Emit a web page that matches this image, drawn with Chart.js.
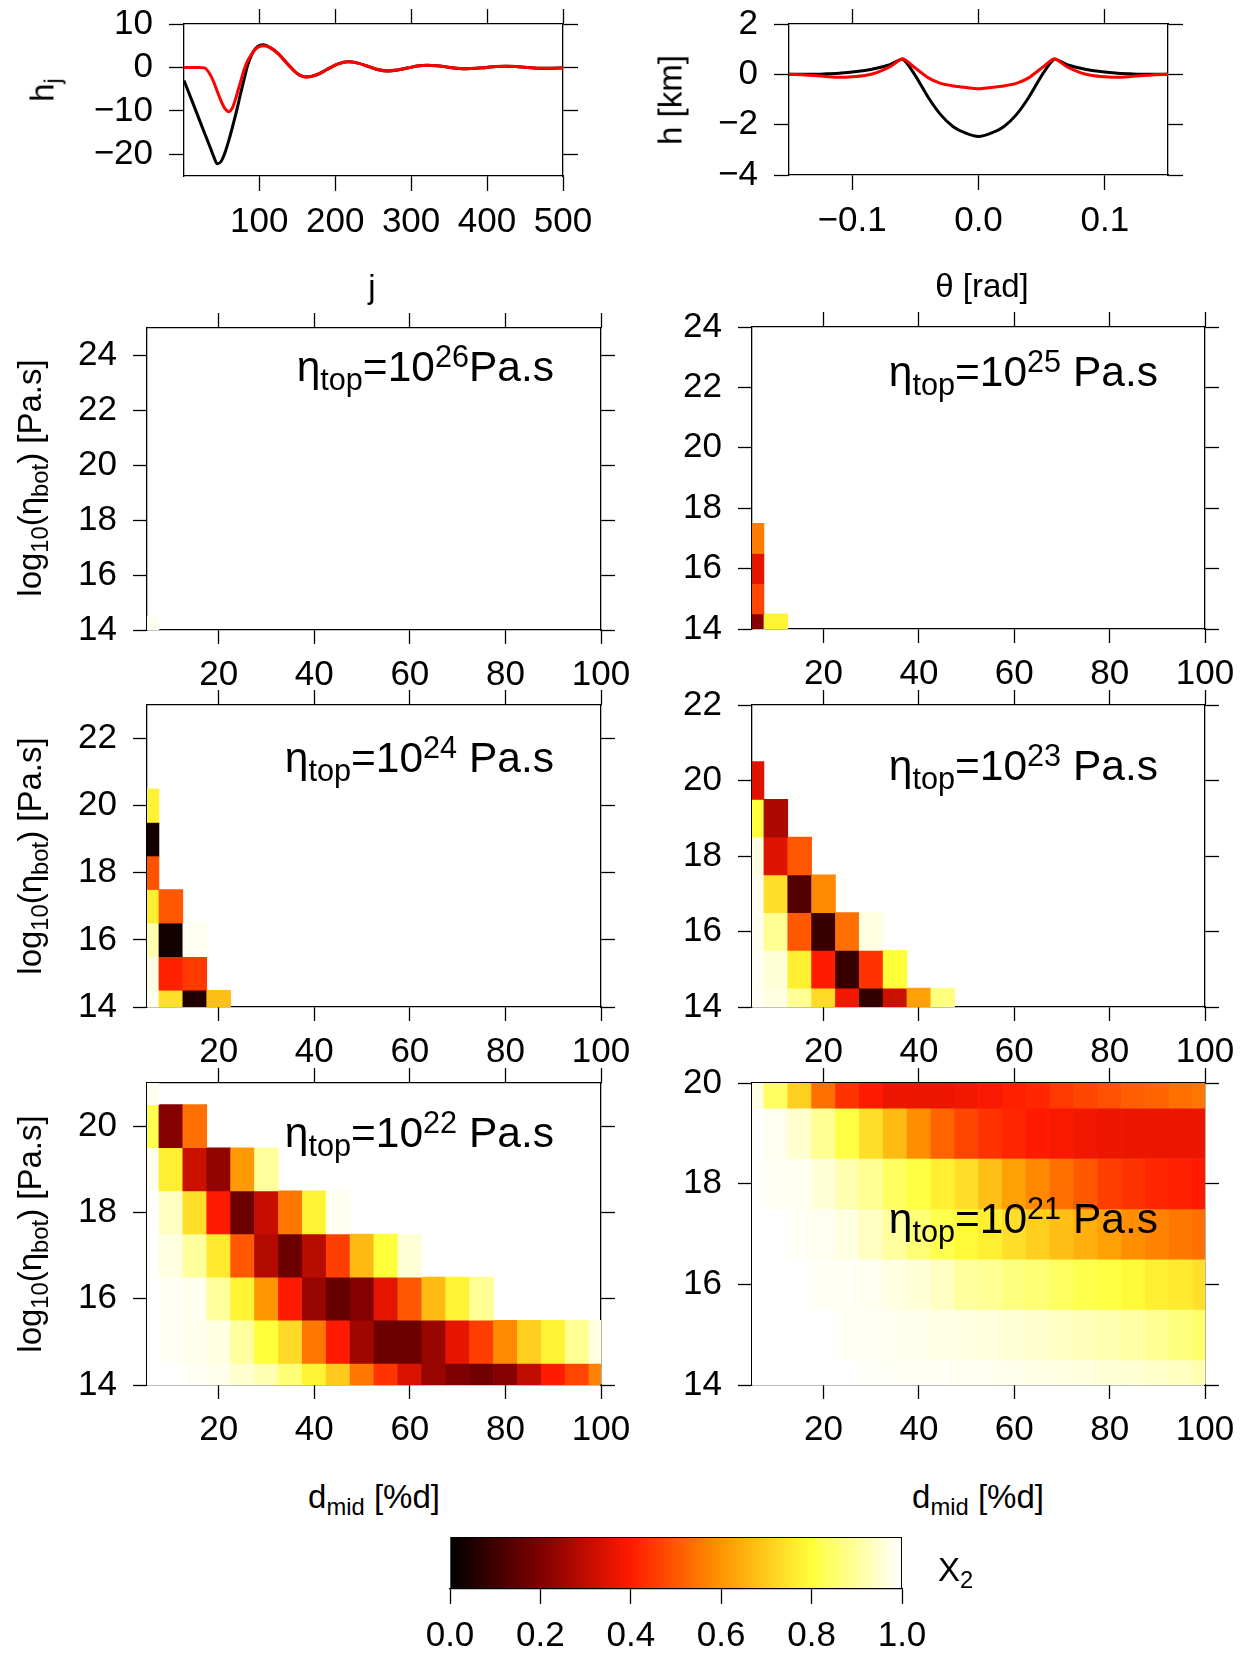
<!DOCTYPE html>
<html>
<head>
<meta charset="utf-8">
<script src="https://cdn.jsdelivr.net/npm/chart.js@4.4.1/dist/chart.umd.min.js"></script>
<style>
  body { margin: 0; background: #fff; }
  #page { position: relative; width: 1254px; height: 1654px; overflow: hidden; background: #fff;
          font-family: 'Liberation Sans', Arial, sans-serif; color: #000; }
  canvas { position: absolute; }
  .lbl { position: absolute; white-space: nowrap; font-size: 33px; line-height: 1; }
  .ctr { transform: translate(-50%, -50%); }
  .rot { transform: translate(-50%, -50%) rotate(-90deg); }
  .ann { position: absolute; white-space: nowrap; font-size: 42.5px; line-height: 1; }
  .sb { font-size: 0.72em; position: relative; top: 0.3em; }
  .sp { font-size: 0.72em; position: relative; top: -0.45em; }
</style>
</head>
<body>
<div id="page"></div>
<script>
// ---------- données ----------
// spectre h_j
const jIdx = [1, 10, 20, 28, 35, 40, 45, 50, 55, 60, 65, 70, 75, 80, 85, 90, 95, 100, 106, 115,
  125, 140, 150, 162, 175, 190, 204, 217, 230, 245, 257, 269, 282, 295, 308, 321, 334, 347, 360, 373,
  386, 399, 412, 425, 438, 450, 462, 472, 486, 500];
const hjBlack = [-3.0, -7.0, -11.5, -15.1, -18.2, -20.5, -22.2, -21.6, -19.6, -16.8,
  -13.6, -10.2, -6.4, -2.8, 0.6, 2.9, 4.3, 5.0, 5.2, 4.5,
  3.2, 0.3, -1.4, -2.2, -1.75, -0.4, 0.83, 1.3, 0.99, 0.12,
  -0.53, -0.8, -0.61, -0.15, 0.31, 0.5, 0.38, 0.1, -0.18, -0.3,
  -0.21, 0.0, 0.21, 0.3, 0.21, 0.02, -0.15, -0.2, -0.17, -0.1];
const hjRed = [0.0, 0.0, 0.0, -0.1, -1.5, -3.3, -5.6, -7.8, -9.5, -10.2,
  -9.2, -6.6, -3.6, -0.6, 1.6, 3.0, 4.2, 4.8, 5.0, 4.5,
  3.2, 0.3, -1.4, -2.2, -1.75, -0.4, 0.83, 1.3, 0.99, 0.12,
  -0.53, -0.8, -0.61, -0.15, 0.31, 0.5, 0.38, 0.1, -0.18, -0.3,
  -0.21, 0.0, 0.21, 0.3, 0.21, 0.02, -0.15, -0.2, -0.17, -0.1];
const jTicks = [100, 200, 300, 400, 500];
const hjTicks = [-20, -10, 0, 10];

// profil h(theta)
const theta = [-0.15, -0.14, -0.13, -0.12, -0.11, -0.10, -0.09, -0.08, -0.07, -0.06,
  -0.05, -0.04, -0.03, -0.02, -0.01, 0.0, 0.01, 0.02, 0.03, 0.04,
  0.05, 0.06, 0.07, 0.08, 0.09, 0.10, 0.11, 0.12, 0.13, 0.14, 0.15];
const hkmBlack = [0, 0, 0, 0.02, 0.04, 0.09, 0.15, 0.25, 0.38, 0.6,
  -0.05, -0.9, -1.6, -2.08, -2.34, -2.47, -2.34, -2.08, -1.6, -0.9,
  -0.05, 0.6, 0.38, 0.25, 0.15, 0.09, 0.04, 0.02, 0, 0, 0];
const hkmRed = [0, -0.02, -0.05, -0.09, -0.12, -0.1, -0.05, 0.08, 0.3, 0.62,
  0.25, -0.13, -0.36, -0.46, -0.52, -0.57, -0.52, -0.46, -0.36, -0.13,
  0.25, 0.62, 0.3, 0.08, -0.05, -0.1, -0.12, -0.09, -0.05, -0.02, 0];
const thetaTicks = [-0.1, 0, 0.1];
const hkmTicks = [-4, -2, 0, 2];

// cartes X2 : colonnes d_mid, lignes log10(eta_bot) = 14, 15, 16 ...
const dMid = [5, 10, 15, 20, 25, 30, 35, 40, 45, 50, 55, 60, 65, 70, 75, 80, 85, 90, 95, 100];
const dTicks = [20, 40, 60, 80, 100];
const etaLow = 14;

const chi26 = [
  [0.985]
];
const chi25 = [
  [0.21, 0.78],
  [0.47],
  [0.36],
  [0.56]
];
const chi24 = [
  [0.985, 0.74, 0.05, 0.68],
  [0.97, 0.41, 0.45],
  [0.92, 0.03, 0.985],
  [0.77, 0.50],
  [0.49],
  [0.03],
  [0.78]
];
const chi23 = [
  [0.99, 0.97, 0.89, 0.73, 0.38, 0.08, 0.32, 0.62, 0.87],
  [0.99, 0.96, 0.77, 0.40, 0.09, 0.44, 0.80],
  [0.985, 0.89, 0.50, 0.09, 0.54, 0.97],
  [0.985, 0.74, 0.13, 0.58],
  [0.97, 0.35, 0.50],
  [0.80, 0.27],
  [0.35]
];
const chi22 = [
  [1.0, 1.0, 0.99, 0.98, 0.95, 0.92, 0.86, 0.78, 0.70, 0.55, 0.44, 0.34, 0.24, 0.20, 0.18, 0.21, 0.30, 0.40, 0.47, 0.57],
  [1.0, 0.99, 0.985, 0.97, 0.90, 0.80, 0.73, 0.55, 0.40, 0.25, 0.17, 0.17, 0.24, 0.36, 0.46, 0.58, 0.71, 0.78, 0.89, 0.97],
  [1.0, 0.99, 0.985, 0.90, 0.78, 0.60, 0.40, 0.24, 0.16, 0.21, 0.36, 0.50, 0.67, 0.78, 0.89],
  [1.0, 0.97, 0.90, 0.76, 0.50, 0.28, 0.17, 0.29, 0.46, 0.67, 0.80, 0.96],
  [1.0, 0.94, 0.74, 0.40, 0.17, 0.31, 0.55, 0.78, 0.985],
  [0.985, 0.77, 0.32, 0.23, 0.61, 0.90],
  [0.82, 0.21, 0.54],
  [0.985]
];
const chi21 = [
  [1.0, 1.0, 1.0, 1.0, 1.0, 0.995, 0.99, 0.99, 0.99, 0.985, 0.985, 0.98, 0.975, 0.97, 0.965, 0.96, 0.955, 0.945, 0.935, 0.92],
  [1.0, 1.0, 1.0, 1.0, 0.99, 0.99, 0.985, 0.98, 0.975, 0.97, 0.965, 0.96, 0.95, 0.94, 0.93, 0.92, 0.91, 0.89, 0.87, 0.85],
  [1.0, 1.0, 1.0, 0.99, 0.99, 0.985, 0.97, 0.96, 0.94, 0.90, 0.89, 0.87, 0.86, 0.84, 0.82, 0.81, 0.79, 0.77, 0.76, 0.74],
  [1.0, 1.0, 0.99, 0.985, 0.97, 0.94, 0.90, 0.86, 0.82, 0.79, 0.77, 0.74, 0.71, 0.68, 0.65, 0.62, 0.59, 0.57, 0.55, 0.54],
  [1.0, 0.99, 0.985, 0.96, 0.92, 0.89, 0.84, 0.81, 0.77, 0.74, 0.68, 0.62, 0.58, 0.54, 0.50, 0.46, 0.44, 0.42, 0.41, 0.40],
  [1.0, 0.985, 0.95, 0.89, 0.81, 0.74, 0.67, 0.59, 0.52, 0.47, 0.44, 0.42, 0.40, 0.39, 0.38, 0.37, 0.37, 0.37, 0.37, 0.37],
  [0.97, 0.84, 0.71, 0.54, 0.44, 0.40, 0.37, 0.37, 0.37, 0.38, 0.39, 0.41, 0.42, 0.45, 0.47, 0.49, 0.51, 0.52, 0.54, 0.55]
];

// échelle de couleurs X2
const chiStops = [0, 0.2, 0.4, 0.6, 0.8, 1.0];
const chiColors = ['#000000', '#7f0000', '#ff1a00', '#ff9500', '#ffff3a', '#ffffff'];
const cbTicks = [0, 0.2, 0.4, 0.6, 0.8, 1.0];

// ---------- réglages ----------
Chart.defaults.font.family = "'Liberation Sans', Arial, sans-serif";
Chart.defaults.color = '#000';
const TICK_FS = 35;
const page = document.getElementById('page');

const baseOpts = {
  responsive: false,
  animation: false,
  devicePixelRatio: 1,
  events: [],
  layout: { padding: 0 },
  plugins: { legend: { display: false }, tooltip: { enabled: false } }
};

function minus(s) { return String(s).replace('-', '\u2212'); }

function chiColor(v) {
  let i = 1;
  while (i < chiStops.length - 1 && v > chiStops[i]) i++;
  const t = (v - chiStops[i - 1]) / (chiStops[i] - chiStops[i - 1]);
  const a = chiColors[i - 1], b = chiColors[i];
  const ch = k => {
    const p = parseInt(a.substr(k, 2), 16), q = parseInt(b.substr(k, 2), 16);
    return Math.round(p + (q - p) * t);
  };
  return `rgb(${ch(1)},${ch(3)},${ch(5)})`;
}

// fixe la taille de l'axe pour que la zone de tracé tombe au bon endroit
function fixSize(px) {
  return function (scale) {
    if (scale.isHorizontal()) scale.height = px; else scale.width = px;
    scale.paddingLeft = scale.paddingRight = scale.paddingTop = scale.paddingBottom = 0;
  };
}

function linAxis(pos, min, max, ticks, size, o = {}) {
  return {
    type: 'linear', position: pos, min: min, max: max, offset: false,
    afterBuildTicks: s => { s.ticks = ticks.map(v => ({ value: v })); },
    afterFit: fixSize(size),
    ticks: {
      display: !!o.labels, padding: o.pad || 0, autoSkip: false, maxRotation: 0, minRotation: 0,
      color: '#000', font: { size: o.fs || TICK_FS, lineHeight: 1 },
      callback: o.fmt || (v => minus(v))
    },
    grid: { drawOnChartArea: false, drawTicks: true, tickLength: o.tl || 14, tickWidth: 1.3,
            tickColor: '#000', color: '#000', offset: false },
    border: { display: true, color: '#000', width: 1.3 }
  };
}

function addCanvas(box, M) {
  const cv = document.createElement('canvas');
  const w = box.x1 - box.x0 + M.l + M.r, h = box.y1 - box.y0 + M.t + M.b;
  cv.width = w; cv.height = h;
  cv.style.left = (box.x0 - M.l) + 'px';
  cv.style.top = (box.y0 - M.t) + 'px';
  cv.style.width = w + 'px';
  cv.style.height = h + 'px';
  page.appendChild(cv);
  return cv;
}

function addText(html, x, y, cls) {
  const d = document.createElement('div');
  d.className = 'lbl ' + cls;
  d.style.left = x + 'px';
  d.style.top = y + 'px';
  d.innerHTML = html;
  page.appendChild(d);
}

// annotation alignée à droite, y = ligne de base
function addNote(html, xr, yb) {
  const d = document.createElement('div');
  d.className = 'ann';
  d.style.right = (1254 - xr) + 'px';
  d.style.top = (yb - 0.85 * 42.5) + 'px';
  d.innerHTML = html;
  page.appendChild(d);
}

const LM = { l: 150, r: 60, t: 30, b: 80 };

function xy(xs, ys) { return xs.map((x, i) => ({ x: x, y: ys[i] })); }

// ---------- courbes du haut ----------
new Chart(addCanvas({ x0: 184, x1: 563, y0: 24, y1: 176 }, LM), {
  type: 'line',
  data: {
    datasets: [
      { data: xy(jIdx, hjRed), borderColor: '#ff0000', borderWidth: 3, pointRadius: 0, cubicInterpolationMode: 'monotone' },
      { data: xy(jIdx, hjBlack), borderColor: '#000000', borderWidth: 3, pointRadius: 0, cubicInterpolationMode: 'monotone' }
    ]
  },
  options: Object.assign({}, baseOpts, {
    scales: {
      x: linAxis('bottom', 1, 500, jTicks, LM.b, { labels: true, pad: 14, tl: 15 }),
      x2: linAxis('top', 1, 500, jTicks, LM.t, { tl: 15 }),
      y: linAxis('left', -25, 10, hjTicks, LM.l, { labels: true, pad: 16, tl: 15 }),
      y2: linAxis('right', -25, 10, hjTicks, LM.r, { tl: 15 })
    }
  })
});

new Chart(addCanvas({ x0: 789, x1: 1168, y0: 24, y1: 175 }, LM), {
  type: 'line',
  data: {
    datasets: [
      { data: xy(theta, hkmRed), borderColor: '#ff0000', borderWidth: 3, pointRadius: 0, tension: 0.2 },
      { data: xy(theta, hkmBlack), borderColor: '#000000', borderWidth: 3, pointRadius: 0, tension: 0.2 }
    ]
  },
  options: Object.assign({}, baseOpts, {
    scales: {
      x: linAxis('bottom', -0.15, 0.15, thetaTicks, LM.b, { labels: true, pad: 14, tl: 15, fmt: v => minus(v.toFixed(1)) }),
      x2: linAxis('top', -0.15, 0.15, thetaTicks, LM.t, { tl: 15 }),
      y: linAxis('left', -4, 2, hkmTicks, LM.l, { labels: true, pad: 16, tl: 15 }),
      y2: linAxis('right', -4, 2, hkmTicks, LM.r, { tl: 15 })
    }
  })
});

// ---------- cartes de chaleur ----------
function heatPanel(box, rows, etaMax, etaTicks) {
  const pts = [], fills = [];
  rows.forEach((row, r) => {
    dMid.forEach((d, c) => {
      const v = row[c];
      const eta = etaLow + r;
      pts.push({ x: d, y: v == null ? null : [eta - 0.5, eta + 0.5] });
      fills.push(v == null ? 'rgba(0,0,0,0)' : chiColor(v));
    });
  });
  new Chart(addCanvas(box, LM), {
    type: 'bar',
    data: {
      datasets: [{
        data: pts, backgroundColor: fills, borderWidth: 0, grouped: false,
        barPercentage: 1, categoryPercentage: 1
      }]
    },
    options: Object.assign({}, baseOpts, {
      scales: {
        x: linAxis('bottom', 5, 100, dTicks, LM.b, { labels: true, pad: 14 }),
        x2: linAxis('top', 5, 100, dTicks, LM.t, { tl: 15 }),
        y: linAxis('left', etaLow, etaMax, etaTicks, LM.l, { labels: true, pad: 16 }),
        y2: linAxis('right', etaLow, etaMax, etaTicks, LM.r)
      }
    })
  });
}

heatPanel({ x0: 147, x1: 601, y0: 328, y1: 630 }, chi26, 25, [14, 16, 18, 20, 22, 24]);
heatPanel({ x0: 752, x1: 1205, y0: 327, y1: 629 }, chi25, 24, [14, 16, 18, 20, 22, 24]);
heatPanel({ x0: 147, x1: 601, y0: 705, y1: 1007 }, chi24, 23, [14, 16, 18, 20, 22]);
heatPanel({ x0: 752, x1: 1205, y0: 705, y1: 1007 }, chi23, 22, [14, 16, 18, 20, 22]);
heatPanel({ x0: 147, x1: 601, y0: 1083, y1: 1385 }, chi22, 21, [14, 16, 18, 20]);
heatPanel({ x0: 752, x1: 1205, y0: 1083, y1: 1385 }, chi21, 20, [14, 16, 18, 20]);

// ---------- barre de couleurs ----------
const CB = { l: 40, r: 40, t: 10, b: 80 };
new Chart(addCanvas({ x0: 450, x1: 902, y0: 1537, y1: 1589 }, CB), {
  type: 'bar',
  data: {
    labels: ['X2'],
    datasets: [{
      data: [[0, 1]],
      backgroundColor: ctx => {
        const ch = ctx.chart, sx = ch.scales.x;
        if (!ch.chartArea || !sx) return '#ff1a00';
        const g = ch.ctx.createLinearGradient(sx.getPixelForValue(0), 0, sx.getPixelForValue(1), 0);
        chiStops.forEach((s, i) => g.addColorStop(s, chiColors[i]));
        return g;
      },
      borderColor: '#000', borderWidth: 1.3, borderSkipped: false,
      barPercentage: 1, categoryPercentage: 1
    }]
  },
  options: Object.assign({}, baseOpts, {
    indexAxis: 'y',
    layout: { padding: { left: CB.l, right: CB.r, top: CB.t, bottom: 0 } },
    scales: {
      x: linAxis('bottom', 0, 1, cbTicks, CB.b, { labels: true, pad: 15, tl: 15, fmt: v => v.toFixed(1) }),
      y: { type: 'category', display: false }
    }
  })
});

// ---------- textes ----------
addText('h<span class="sb">j</span>', 42, 90, 'rot');
addText('h [km]', 670, 100, 'rot');
addText('j', 372, 286, 'ctr');
addText('\u03b8 [rad]', 982, 285, 'ctr');
[478, 856, 1234].forEach(y => {
  addText('log<span class="sb">10</span>(\u03b7<span class="sb">bot</span>) [Pa.s]', 29, y, 'rot');
});
addText('d<span class="sb">mid</span> [%d]', 374, 1496, 'ctr');
addText('d<span class="sb">mid</span> [%d]', 978, 1496, 'ctr');
addText('X<span class="sb">2</span>', 938, 1553, '');

const eta = '\u03b7<span class="sb">top</span>=10';
addNote(eta + '<span class="sp">26</span>Pa.s', 554, 382);
addNote(eta + '<span class="sp">25</span> Pa.s', 1158, 387);
addNote(eta + '<span class="sp">24</span> Pa.s', 554, 773);
addNote(eta + '<span class="sp">23</span> Pa.s', 1158, 781);
addNote(eta + '<span class="sp">22</span> Pa.s', 554, 1148);
addNote(eta + '<span class="sp">21</span> Pa.s', 1158, 1234);
</script>
</body>
</html>
